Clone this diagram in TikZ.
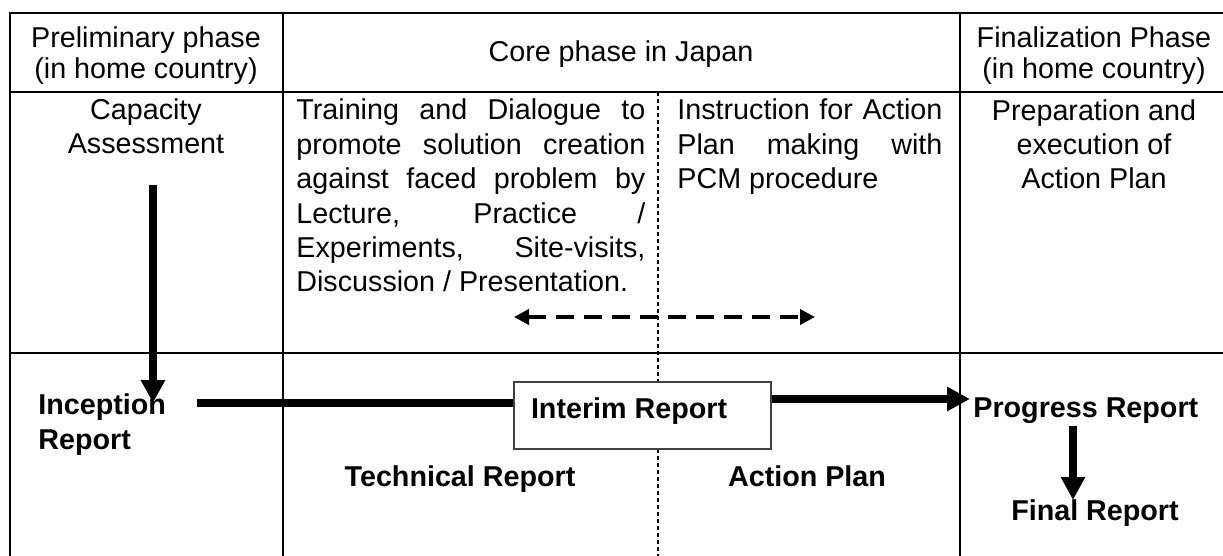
\documentclass[tikz,border=0pt]{standalone}
\usepackage{fontspec}
\setmainfont{Liberation Sans}
\usetikzlibrary{arrows.meta, positioning}
\tolerance=10000
\hbadness=10000

\tikzset{
  cell/.style={font=\fontsize{14.35}{15.8}\selectfont, align=center, inner sep=0pt},
  body/.style={font=\fontsize{14.35}{17.2}\selectfont, align=center, inner sep=0pt},
  para/.style={font=\fontsize{14.35}{17.2}\selectfont, align=justify, inner sep=0pt},
  report/.style={font=\fontsize{14.35}{17.5}\selectfont\bfseries, inner sep=0pt},
  grid line/.style={line width=1pt},
  big arrow/.style={line width=4pt, -{Triangle[width=11.5pt,length=11.5pt]}},
}

\begin{document}
\begin{tikzpicture}[x=0.5pt, y=-0.5pt]
    \useasboundingbox (0,0) rectangle (1223,556);
    \clip (0,0) rectangle (1223,556);

    % table lines
    \draw[grid line] (1240,13) -- (10,13) -- (10,570);
    \draw[grid line] (10,92) -- (1240,92) (10,353) -- (1240,353);
    \draw[grid line] (283,13) -- (283,570) (960,13) -- (960,570);
    \draw[line width=1pt, dash pattern=on 2pt off 1.5pt] (658,92) -- (658,570);

    % header row (base = last line)
    \node[cell, anchor=base] (prelim) at (146,79) {Preliminary phase\\(in home country)};
    \node[cell, anchor=base] (core) at (621,62) {Core phase in Japan};
    \node[cell, anchor=base] (finphase) at (1094,79) {Finalization Phase\\(in home country)};

    % activities
    \node[body, anchor=base] (capacity) at (146,154) {Capacity\\Assessment};
    \node[para, anchor=base west, text width=174.5pt] (training) at (296,120)
        {Training and Dialogue to\linebreak promote solution creation\linebreak against faced problem by\linebreak
         Lecture, Practice /\linebreak Experiments, Site-visits,\linebreak Discussion / Presentation.};
    \node[para, anchor=base west, text width=132.5pt] (instruction) at (677,120)
        {Instruction for Action\linebreak Plan making with\linebreak PCM procedure};
    \node[body, anchor=base] (preparation) at (1094,189) {Preparation and\\execution of\\Action Plan};

    % reports
    \node[report, anchor=base west, align=left] (inception) at (38,450) {Inception\\Report};
    \node[report, draw=black!75, fill=white, line width=1pt, anchor=north west, text height=18pt, text depth=15.5pt] (interim)
        at (513,381) {\hspace*{8.5pt}Interim Report\hspace*{22pt}};
    \node[report, anchor=base west] (progress) at (973,417) {Progress Report};
    \node[report, anchor=base] (technical) at (460,487) {Technical Report};
    \node[report, anchor=base] (actionplan) at (807,486) {Action Plan};
    \node[report, anchor=base] (final) at (1095,520) {Final Report};

    \coordinate (cap-out) at (153,185);
    \coordinate (inc-in) at (153,403);
    \coordinate (inc-out) at (197,403);
    \coordinate (prog-in) at (970,399);
    \coordinate (prog-out) at (1073,426);
    \coordinate (final-in) at (1073,500);
    \coordinate (loop-w) at (514,317);
    \coordinate (loop-e) at (815,317);

    \draw[big arrow] (cap-out) -- (inc-in);
    \draw[line width=4pt] (inc-out) -- (inc-out -| interim.west);
    \draw[big arrow] (interim.east |- prog-in) -- (prog-in);
    \draw[big arrow] (prog-out) -- (final-in);
    \draw[line width=1.8pt, dash pattern=on 9pt off 5pt,
          {Triangle[width=7.5pt,length=7.5pt]}-{Triangle[width=7.5pt,length=7.5pt]}] (loop-w) -- (loop-e);
\end{tikzpicture}
\end{document}
